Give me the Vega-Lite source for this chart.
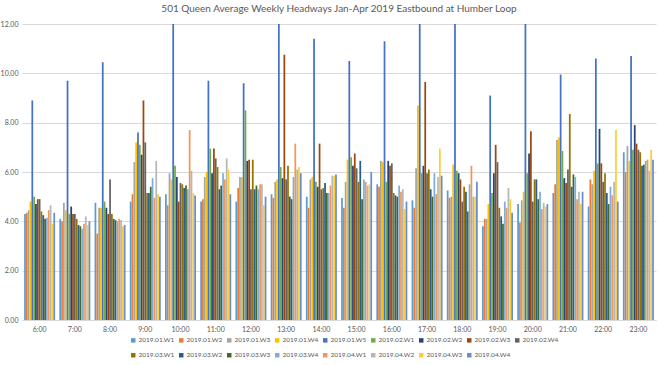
{
  "$schema": "https://vega.github.io/schema/vega-lite/v6.json",
  "autosize": {"type": "none"},
  "padding": {"left": 22, "top": 24, "right": 4, "bottom": 45},
  "width": 634,
  "height": 296,
  "title": {"text": "501 Queen Average Weekly Headways Jan-Apr 2019 Eastbound at Humber Loop", "fontSize": 10, "font": "Lato", "fontWeight": "normal", "color": "#595959", "offset": 6},
  "config": {
    "view": {"stroke": null},
    "font": "Lato",
    "axis": {"labelFont": "Lato", "labelColor": "#595959", "labelFontSize": 7, "ticks": false, "title": null},
    "legend": {"labelFont": "Lato"}
  },
  "data": {"values": [
    {"h":"6:00","s":"2019.01.W1","v":4.3},{"h":"6:00","s":"2019.01.W2","v":4.35},{"h":"6:00","s":"2019.01.W3","v":4.45},{"h":"6:00","s":"2019.01.W4","v":4.8},{"h":"6:00","s":"2019.01.W5","v":8.9},{"h":"6:00","s":"2019.02.W1","v":5.0},{"h":"6:00","s":"2019.02.W2","v":4.7},{"h":"6:00","s":"2019.02.W3","v":4.9},{"h":"6:00","s":"2019.02.W4","v":4.9},{"h":"6:00","s":"2019.03.W1","v":4.4},{"h":"6:00","s":"2019.03.W2","v":4.25},{"h":"6:00","s":"2019.03.W3","v":4.1},{"h":"6:00","s":"2019.03.W4","v":4.15},{"h":"6:00","s":"2019.04.W1","v":4.45},{"h":"6:00","s":"2019.04.W2","v":4.65},{"h":"6:00","s":"2019.04.W3","v":3.9},{"h":"6:00","s":"2019.04.W4","v":4.35},
    {"h":"7:00","s":"2019.01.W1","v":4.1},{"h":"7:00","s":"2019.01.W2","v":4.0},{"h":"7:00","s":"2019.01.W3","v":4.75},{"h":"7:00","s":"2019.01.W4","v":4.45},{"h":"7:00","s":"2019.01.W5","v":9.7},{"h":"7:00","s":"2019.02.W1","v":4.3},{"h":"7:00","s":"2019.02.W2","v":4.6},{"h":"7:00","s":"2019.02.W3","v":4.3},{"h":"7:00","s":"2019.02.W4","v":4.3},{"h":"7:00","s":"2019.03.W1","v":4.1},{"h":"7:00","s":"2019.03.W2","v":3.85},{"h":"7:00","s":"2019.03.W3","v":3.8},{"h":"7:00","s":"2019.03.W4","v":3.7},{"h":"7:00","s":"2019.04.W1","v":3.9},{"h":"7:00","s":"2019.04.W2","v":4.2},{"h":"7:00","s":"2019.04.W3","v":3.85},{"h":"7:00","s":"2019.04.W4","v":4.0},
    {"h":"8:00","s":"2019.01.W1","v":4.75},{"h":"8:00","s":"2019.01.W2","v":3.5},{"h":"8:00","s":"2019.01.W3","v":4.55},{"h":"8:00","s":"2019.01.W4","v":4.55},{"h":"8:00","s":"2019.01.W5","v":10.45},{"h":"8:00","s":"2019.02.W1","v":4.8},{"h":"8:00","s":"2019.02.W2","v":4.55},{"h":"8:00","s":"2019.02.W3","v":4.3},{"h":"8:00","s":"2019.02.W4","v":5.7},{"h":"8:00","s":"2019.03.W1","v":4.3},{"h":"8:00","s":"2019.03.W2","v":4.1},{"h":"8:00","s":"2019.03.W3","v":4.05},{"h":"8:00","s":"2019.03.W4","v":4.0},{"h":"8:00","s":"2019.04.W1","v":4.1},{"h":"8:00","s":"2019.04.W2","v":4.05},{"h":"8:00","s":"2019.04.W3","v":3.8},{"h":"8:00","s":"2019.04.W4","v":3.85},
    {"h":"9:00","s":"2019.01.W1","v":4.8},{"h":"9:00","s":"2019.01.W2","v":5.1},{"h":"9:00","s":"2019.01.W3","v":6.4},{"h":"9:00","s":"2019.01.W4","v":7.2},{"h":"9:00","s":"2019.01.W5","v":7.6},{"h":"9:00","s":"2019.02.W1","v":7.1},{"h":"9:00","s":"2019.02.W2","v":6.7},{"h":"9:00","s":"2019.02.W3","v":8.9},{"h":"9:00","s":"2019.02.W4","v":7.2},{"h":"9:00","s":"2019.03.W1","v":5.15},{"h":"9:00","s":"2019.03.W2","v":5.15},{"h":"9:00","s":"2019.03.W3","v":5.4},{"h":"9:00","s":"2019.03.W4","v":5.75},{"h":"9:00","s":"2019.04.W1","v":4.95},{"h":"9:00","s":"2019.04.W2","v":6.45},{"h":"9:00","s":"2019.04.W3","v":5.1},{"h":"9:00","s":"2019.04.W4","v":5.0},
    {"h":"10:00","s":"2019.01.W1","v":5.1},{"h":"10:00","s":"2019.01.W2","v":4.65},{"h":"10:00","s":"2019.01.W3","v":5.95},{"h":"10:00","s":"2019.01.W4","v":5.7},{"h":"10:00","s":"2019.01.W5","v":12.0},{"h":"10:00","s":"2019.02.W1","v":6.25},{"h":"10:00","s":"2019.02.W2","v":5.8},{"h":"10:00","s":"2019.02.W3","v":4.8},{"h":"10:00","s":"2019.02.W4","v":5.55},{"h":"10:00","s":"2019.03.W1","v":5.5},{"h":"10:00","s":"2019.03.W2","v":5.35},{"h":"10:00","s":"2019.03.W3","v":5.45},{"h":"10:00","s":"2019.03.W4","v":5.3},{"h":"10:00","s":"2019.04.W1","v":7.7},{"h":"10:00","s":"2019.04.W2","v":6.05},{"h":"10:00","s":"2019.04.W3","v":5.15},{"h":"10:00","s":"2019.04.W4","v":5.05},
    {"h":"11:00","s":"2019.01.W1","v":4.8},{"h":"11:00","s":"2019.01.W2","v":4.9},{"h":"11:00","s":"2019.01.W3","v":5.8},{"h":"11:00","s":"2019.01.W4","v":6.0},{"h":"11:00","s":"2019.01.W5","v":9.7},{"h":"11:00","s":"2019.02.W1","v":6.95},{"h":"11:00","s":"2019.02.W2","v":5.95},{"h":"11:00","s":"2019.02.W3","v":6.95},{"h":"11:00","s":"2019.02.W4","v":6.55},{"h":"11:00","s":"2019.03.W1","v":6.2},{"h":"11:00","s":"2019.03.W2","v":5.3},{"h":"11:00","s":"2019.03.W3","v":5.45},{"h":"11:00","s":"2019.03.W4","v":5.95},{"h":"11:00","s":"2019.04.W1","v":5.7},{"h":"11:00","s":"2019.04.W2","v":6.55},{"h":"11:00","s":"2019.04.W3","v":6.1},{"h":"11:00","s":"2019.04.W4","v":5.1},
    {"h":"12:00","s":"2019.01.W1","v":4.8},{"h":"12:00","s":"2019.01.W2","v":5.35},{"h":"12:00","s":"2019.01.W3","v":5.8},{"h":"12:00","s":"2019.01.W4","v":5.8},{"h":"12:00","s":"2019.01.W5","v":9.6},{"h":"12:00","s":"2019.02.W1","v":8.5},{"h":"12:00","s":"2019.02.W2","v":6.45},{"h":"12:00","s":"2019.02.W3","v":6.5},{"h":"12:00","s":"2019.02.W4","v":5.3},{"h":"12:00","s":"2019.03.W1","v":6.5},{"h":"12:00","s":"2019.03.W2","v":5.3},{"h":"12:00","s":"2019.03.W3","v":5.45},{"h":"12:00","s":"2019.03.W4","v":5.3},{"h":"12:00","s":"2019.04.W1","v":5.5},{"h":"12:00","s":"2019.04.W2","v":5.5},{"h":"12:00","s":"2019.04.W3","v":4.65},{"h":"12:00","s":"2019.04.W4","v":5.0},
    {"h":"13:00","s":"2019.01.W1","v":5.1},{"h":"13:00","s":"2019.01.W2","v":4.95},{"h":"13:00","s":"2019.01.W3","v":5.6},{"h":"13:00","s":"2019.01.W4","v":5.7},{"h":"13:00","s":"2019.01.W5","v":12.0},{"h":"13:00","s":"2019.02.W1","v":6.2},{"h":"13:00","s":"2019.02.W2","v":5.75},{"h":"13:00","s":"2019.02.W3","v":10.75},{"h":"13:00","s":"2019.02.W4","v":5.7},{"h":"13:00","s":"2019.03.W1","v":6.25},{"h":"13:00","s":"2019.03.W2","v":5.0},{"h":"13:00","s":"2019.03.W3","v":4.9},{"h":"13:00","s":"2019.03.W4","v":5.8},{"h":"13:00","s":"2019.04.W1","v":7.15},{"h":"13:00","s":"2019.04.W2","v":6.1},{"h":"13:00","s":"2019.04.W3","v":6.2},{"h":"13:00","s":"2019.04.W4","v":5.95},
    {"h":"14:00","s":"2019.01.W1","v":5.0},{"h":"14:00","s":"2019.01.W2","v":4.55},{"h":"14:00","s":"2019.01.W3","v":5.7},{"h":"14:00","s":"2019.01.W4","v":5.8},{"h":"14:00","s":"2019.01.W5","v":11.4},{"h":"14:00","s":"2019.02.W1","v":5.6},{"h":"14:00","s":"2019.02.W2","v":5.4},{"h":"14:00","s":"2019.02.W3","v":7.15},{"h":"14:00","s":"2019.02.W4","v":5.3},{"h":"14:00","s":"2019.03.W1","v":5.35},{"h":"14:00","s":"2019.03.W2","v":5.55},{"h":"14:00","s":"2019.03.W3","v":5.15},{"h":"14:00","s":"2019.03.W4","v":5.15},{"h":"14:00","s":"2019.04.W1","v":5.45},{"h":"14:00","s":"2019.04.W2","v":5.85},{"h":"14:00","s":"2019.04.W3","v":5.85},{"h":"14:00","s":"2019.04.W4","v":5.9},
    {"h":"15:00","s":"2019.01.W1","v":4.95},{"h":"15:00","s":"2019.01.W2","v":4.55},{"h":"15:00","s":"2019.01.W3","v":5.6},{"h":"15:00","s":"2019.01.W4","v":6.5},{"h":"15:00","s":"2019.01.W5","v":10.5},{"h":"15:00","s":"2019.02.W1","v":6.6},{"h":"15:00","s":"2019.02.W2","v":6.25},{"h":"15:00","s":"2019.02.W3","v":6.75},{"h":"15:00","s":"2019.02.W4","v":6.15},{"h":"15:00","s":"2019.03.W1","v":5.6},{"h":"15:00","s":"2019.03.W2","v":6.45},{"h":"15:00","s":"2019.03.W3","v":4.9},{"h":"15:00","s":"2019.03.W4","v":5.7},{"h":"15:00","s":"2019.04.W1","v":5.6},{"h":"15:00","s":"2019.04.W2","v":5.45},{"h":"15:00","s":"2019.04.W3","v":5.5},{"h":"15:00","s":"2019.04.W4","v":6.0},
    {"h":"16:00","s":"2019.01.W1","v":5.5},{"h":"16:00","s":"2019.01.W2","v":5.4},{"h":"16:00","s":"2019.01.W3","v":6.45},{"h":"16:00","s":"2019.01.W4","v":6.4},{"h":"16:00","s":"2019.01.W5","v":11.3},{"h":"16:00","s":"2019.02.W1","v":5.6},{"h":"16:00","s":"2019.02.W2","v":6.45},{"h":"16:00","s":"2019.02.W3","v":6.25},{"h":"16:00","s":"2019.02.W4","v":6.35},{"h":"16:00","s":"2019.03.W1","v":5.15},{"h":"16:00","s":"2019.03.W2","v":5.05},{"h":"16:00","s":"2019.03.W3","v":5.0},{"h":"16:00","s":"2019.03.W4","v":5.45},{"h":"16:00","s":"2019.04.W1","v":5.2},{"h":"16:00","s":"2019.04.W2","v":5.3},{"h":"16:00","s":"2019.04.W3","v":4.5},{"h":"16:00","s":"2019.04.W4","v":4.8},
    {"h":"17:00","s":"2019.01.W1","v":4.85},{"h":"17:00","s":"2019.01.W2","v":4.55},{"h":"17:00","s":"2019.01.W3","v":6.15},{"h":"17:00","s":"2019.01.W4","v":8.7},{"h":"17:00","s":"2019.01.W5","v":12.0},{"h":"17:00","s":"2019.02.W1","v":5.95},{"h":"17:00","s":"2019.02.W2","v":6.25},{"h":"17:00","s":"2019.02.W3","v":9.65},{"h":"17:00","s":"2019.02.W4","v":5.95},{"h":"17:00","s":"2019.03.W1","v":6.1},{"h":"17:00","s":"2019.03.W2","v":5.3},{"h":"17:00","s":"2019.03.W3","v":5.0},{"h":"17:00","s":"2019.03.W4","v":5.95},{"h":"17:00","s":"2019.04.W1","v":5.1},{"h":"17:00","s":"2019.04.W2","v":5.8},{"h":"17:00","s":"2019.04.W3","v":6.95},{"h":"17:00","s":"2019.04.W4","v":5.85},
    {"h":"18:00","s":"2019.01.W1","v":5.25},{"h":"18:00","s":"2019.01.W2","v":4.95},{"h":"18:00","s":"2019.01.W3","v":5.0},{"h":"18:00","s":"2019.01.W4","v":6.3},{"h":"18:00","s":"2019.01.W5","v":12.0},{"h":"18:00","s":"2019.02.W1","v":6.05},{"h":"18:00","s":"2019.02.W2","v":5.95},{"h":"18:00","s":"2019.02.W3","v":5.7},{"h":"18:00","s":"2019.02.W4","v":4.8},{"h":"18:00","s":"2019.03.W1","v":5.4},{"h":"18:00","s":"2019.03.W2","v":5.2},{"h":"18:00","s":"2019.03.W3","v":4.4},{"h":"18:00","s":"2019.03.W4","v":5.5},{"h":"18:00","s":"2019.04.W1","v":6.25},{"h":"18:00","s":"2019.04.W2","v":5.0},{"h":"18:00","s":"2019.04.W3","v":5.0},{"h":"18:00","s":"2019.04.W4","v":5.6},
    {"h":"19:00","s":"2019.01.W1","v":3.8},{"h":"19:00","s":"2019.01.W2","v":4.1},{"h":"19:00","s":"2019.01.W3","v":4.1},{"h":"19:00","s":"2019.01.W4","v":4.7},{"h":"19:00","s":"2019.01.W5","v":9.1},{"h":"19:00","s":"2019.02.W1","v":5.15},{"h":"19:00","s":"2019.02.W2","v":5.95},{"h":"19:00","s":"2019.02.W3","v":7.1},{"h":"19:00","s":"2019.02.W4","v":6.4},{"h":"19:00","s":"2019.03.W1","v":4.55},{"h":"19:00","s":"2019.03.W2","v":4.2},{"h":"19:00","s":"2019.03.W3","v":3.9},{"h":"19:00","s":"2019.03.W4","v":4.8},{"h":"19:00","s":"2019.04.W1","v":4.55},{"h":"19:00","s":"2019.04.W2","v":5.35},{"h":"19:00","s":"2019.04.W3","v":4.9},{"h":"19:00","s":"2019.04.W4","v":4.35},
    {"h":"20:00","s":"2019.01.W1","v":4.7},{"h":"20:00","s":"2019.01.W2","v":3.95},{"h":"20:00","s":"2019.01.W3","v":4.85},{"h":"20:00","s":"2019.01.W4","v":5.2},{"h":"20:00","s":"2019.01.W5","v":12.0},{"h":"20:00","s":"2019.02.W1","v":5.95},{"h":"20:00","s":"2019.02.W2","v":6.75},{"h":"20:00","s":"2019.02.W3","v":7.65},{"h":"20:00","s":"2019.02.W4","v":4.8},{"h":"20:00","s":"2019.03.W1","v":5.7},{"h":"20:00","s":"2019.03.W2","v":5.7},{"h":"20:00","s":"2019.03.W3","v":4.9},{"h":"20:00","s":"2019.03.W4","v":5.2},{"h":"20:00","s":"2019.04.W1","v":4.5},{"h":"20:00","s":"2019.04.W2","v":4.75},{"h":"20:00","s":"2019.04.W3","v":4.6},{"h":"20:00","s":"2019.04.W4","v":4.7},
    {"h":"21:00","s":"2019.01.W1","v":5.15},{"h":"21:00","s":"2019.01.W2","v":5.5},{"h":"21:00","s":"2019.01.W3","v":7.3},{"h":"21:00","s":"2019.01.W4","v":7.4},{"h":"21:00","s":"2019.01.W5","v":9.95},{"h":"21:00","s":"2019.02.W1","v":6.85},{"h":"21:00","s":"2019.02.W2","v":5.75},{"h":"21:00","s":"2019.02.W3","v":5.55},{"h":"21:00","s":"2019.02.W4","v":6.1},{"h":"21:00","s":"2019.03.W1","v":8.35},{"h":"21:00","s":"2019.03.W2","v":5.4},{"h":"21:00","s":"2019.03.W3","v":5.9},{"h":"21:00","s":"2019.03.W4","v":5.8},{"h":"21:00","s":"2019.04.W1","v":4.9},{"h":"21:00","s":"2019.04.W2","v":5.2},{"h":"21:00","s":"2019.04.W3","v":4.7},{"h":"21:00","s":"2019.04.W4","v":5.2},
    {"h":"22:00","s":"2019.01.W1","v":4.6},{"h":"22:00","s":"2019.01.W2","v":5.7},{"h":"22:00","s":"2019.01.W3","v":5.5},{"h":"22:00","s":"2019.01.W4","v":6.05},{"h":"22:00","s":"2019.01.W5","v":10.6},{"h":"22:00","s":"2019.02.W1","v":6.35},{"h":"22:00","s":"2019.02.W2","v":7.75},{"h":"22:00","s":"2019.02.W3","v":6.35},{"h":"22:00","s":"2019.02.W4","v":5.6},{"h":"22:00","s":"2019.03.W1","v":5.95},{"h":"22:00","s":"2019.03.W2","v":5.15},{"h":"22:00","s":"2019.03.W3","v":4.7},{"h":"22:00","s":"2019.03.W4","v":5.4},{"h":"22:00","s":"2019.04.W1","v":5.05},{"h":"22:00","s":"2019.04.W2","v":5.6},{"h":"22:00","s":"2019.04.W3","v":7.7},{"h":"22:00","s":"2019.04.W4","v":4.8},
    {"h":"23:00","s":"2019.01.W1","v":6.8},{"h":"23:00","s":"2019.01.W2","v":6.0},{"h":"23:00","s":"2019.01.W3","v":7.05},{"h":"23:00","s":"2019.01.W4","v":6.45},{"h":"23:00","s":"2019.01.W5","v":10.7},{"h":"23:00","s":"2019.02.W1","v":6.9},{"h":"23:00","s":"2019.02.W2","v":7.9},{"h":"23:00","s":"2019.02.W3","v":7.15},{"h":"23:00","s":"2019.02.W4","v":6.9},{"h":"23:00","s":"2019.03.W1","v":6.8},{"h":"23:00","s":"2019.03.W2","v":6.25},{"h":"23:00","s":"2019.03.W3","v":6.3},{"h":"23:00","s":"2019.03.W4","v":6.45},{"h":"23:00","s":"2019.04.W1","v":6.5},{"h":"23:00","s":"2019.04.W2","v":6.05},{"h":"23:00","s":"2019.04.W3","v":6.9},{"h":"23:00","s":"2019.04.W4","v":6.5}
  ]},
  "mark": {"type": "bar", "clip": true},
  "encoding": {
    "x": {"field": "h", "type": "nominal", "sort": null,
      "scale": {"paddingInner": 0.12, "paddingOuter": 0.06},
      "axis": {"labelAngle": 0, "domainColor": "#D9D9D9", "labelPadding": 5, "grid": false}},
    "xOffset": {"field": "s", "type": "nominal", "sort": null, "scale": {"paddingInner": 0.04}},
    "y": {"field": "v", "type": "quantitative",
      "scale": {"domain": [0, 12], "nice": false},
      "axis": {"values": [0, 2, 4, 6, 8, 10, 12], "format": ".2f", "domain": false, "gridColor": "#D9D9D9", "labelPadding": 4}},
    "color": {"field": "s", "type": "nominal", "sort": null,
      "scale": {"domain": ["2019.01.W1","2019.01.W2","2019.01.W3","2019.01.W4","2019.01.W5","2019.02.W1","2019.02.W2","2019.02.W3","2019.02.W4","2019.03.W1","2019.03.W2","2019.03.W3","2019.03.W4","2019.04.W1","2019.04.W2","2019.04.W3","2019.04.W4"],
        "range": ["#5B9BD5","#ED7D31","#A5A5A5","#FFC000","#4472C4","#70AD47","#264478","#9E480E","#636363","#997300","#255E91","#43682B","#7CAFDD","#F1975A","#B7B7B7","#FFCD33","#698ED0"]},
      "legend": {"orient": "none", "legendX": 108, "legendY": 313, "direction": "horizontal", "columns": 9, "title": null, "symbolType": "square", "symbolSize": 20, "labelFontSize": 6.5, "labelColor": "#595959", "labelOffset": 2, "columnPadding": 3, "rowPadding": 8, "symbolStrokeWidth": 0}}
  }
}
